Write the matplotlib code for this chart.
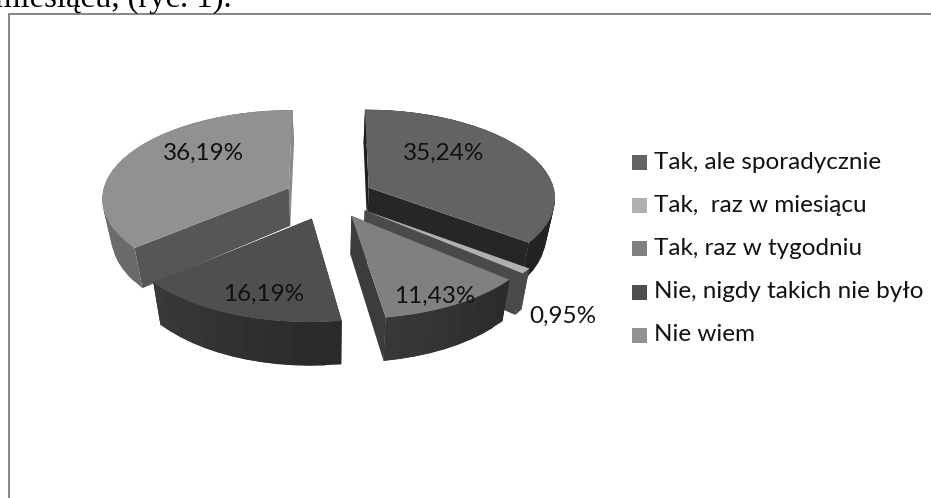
import numpy as np
import matplotlib
matplotlib.use('Agg')
import matplotlib.pyplot as plt
from matplotlib.patches import Polygon, Rectangle

categories = ['Tak, ale sporadycznie', 'Tak,  raz w miesiącu', 'Tak, raz w tygodniu',
              'Nie, nigdy takich nie było', 'Nie wiem']
values = [35.24, 0.95, 11.43, 16.19, 36.19]
valueLabels = ['35,24%', '0,95%', '11,43%', '16,19%', '36,19%']
labelPositions = [(444, 153), (563, 316), (435, 296), (264, 294), (204, 153)]

topColors = ['#636363', '#b0b0b0', '#808080', '#4f4f4f', '#919191']
# wall colour at the start and end of each arc, then the two radial cut faces
wallColors = [('#2e2e2e', '#222222'), ('#4a4a4a', '#4a4a4a'), ('#2b2b2b', '#383838'),
              ('#2a2a2a', '#3a3a3a'), ('#6a6a6a', '#848484')]
faceColors = [('#1e1e1e', '#262626'), ('#4a4a4a', '#4a4a4a'), ('#333333', '#3c3c3c'),
              ('#3a3a3a', '#3a3a3a'), ('#565656', '#8a8a8a')]
explodes = [0.24, 0.24, 0.24, 0.255, 0.24]

# projection of the exploded pie
CX, CY = 329, 197
RX, RY = 187, 88
PERSPECTIVE = 0.104
DEPTH = 38
BOTTOM_SHRINK = 0.96


def project(u, v, bottom=False):
    scale = 1 / (1 + PERSPECTIVE * v)
    x = RX * u * scale
    y = CY - RY * v * scale
    if bottom:
        return CX + x * BOTTOM_SHRINK, y + DEPTH * scale
    return CX + x, y


def mixColor(c1, c2, t):
    a = np.array(matplotlib.colors.to_rgb(c1))
    b = np.array(matplotlib.colors.to_rgb(c2))
    return tuple(a + (b - a) * t)


def drawSlice(ax, start, end, explode, topColor, wallPair, facePair):
    mid = (start + end) / 2
    du, dv = explode * np.sin(mid), explode * np.cos(mid)
    angles = np.linspace(start, end, max(int((end - start) * 14), 3))
    us, vs = np.sin(angles) + du, np.cos(angles) + dv

    quads = []
    last = len(angles) - 1
    for i in range(last):
        # each strip runs over into the next one so no seam shows through
        j = min(i + 2, last)
        pts = [project(us[i], vs[i]), project(us[j], vs[j]),
               project(us[j], vs[j], True), project(us[i], vs[i], True)]
        t = i / max(last - 1, 1)
        quads.append(((vs[i] + vs[i + 1]) / 2, pts, mixColor(wallPair[0], wallPair[1], t)))
    for ang_u, ang_v, color in [(us[0], vs[0], facePair[0]), (us[-1], vs[-1], facePair[1])]:
        pts = [project(du, dv), project(ang_u, ang_v),
               project(ang_u, ang_v, True), project(du, dv, True)]
        quads.append(((dv + ang_v) / 2, pts, color))

    # back faces first so the front ones paint over them
    for _, pts, color in sorted(quads, key=lambda q: -q[0]):
        ax.add_patch(Polygon(pts, closed=True, facecolor=color, edgecolor='none'))

    outline = [project(du, dv)] + [project(a, b) for a, b in zip(us, vs)]
    ax.add_patch(Polygon(outline, closed=True, facecolor=topColor, edgecolor='none'))


plt.rcParams['font.family'] = ['Lato', 'DejaVu Sans']
fig = plt.figure(figsize=(9.31, 4.98), dpi=100)
ax = fig.add_axes([0, 0, 1, 1])
ax.set_xlim(0, 931)
ax.set_ylim(498, 0)
ax.axis('off')

ax.text(-5, 7, 'miesiącu, (ryc. 1).', family='Liberation Serif', fontsize=23.5, color='black',
        ha='left', va='baseline')

# chart frame, its right and bottom edges run off the page
ax.plot([9, 9, 931], [498, 13.5, 13.5], color='#868686', linewidth=1.4, solid_joinstyle='miter')

fractions = np.array(values) / sum(values)
edges = np.concatenate([[0], np.cumsum(fractions)]) * 2 * np.pi
drawOrder = [4, 0, 1, 3, 2]
for idx in drawOrder:
    drawSlice(ax, edges[idx], edges[idx + 1], explodes[idx], topColors[idx], wallColors[idx], faceColors[idx])

for text, (x, y) in zip(valueLabels, labelPositions):
    ax.text(x, y, text, fontsize=17.5, color='#111111', ha='center', va='center')

legendTop = 155
legendStep = 43.2
for i, name in enumerate(categories):
    y = legendTop + i * legendStep
    ax.add_patch(Rectangle((632, y), 15, 15, facecolor=topColors[i], edgecolor='none'))
    ax.text(654, y + 7, name, fontsize=17.5, color='#111111', ha='left', va='center')

fig.savefig('out.png', dpi=100)
